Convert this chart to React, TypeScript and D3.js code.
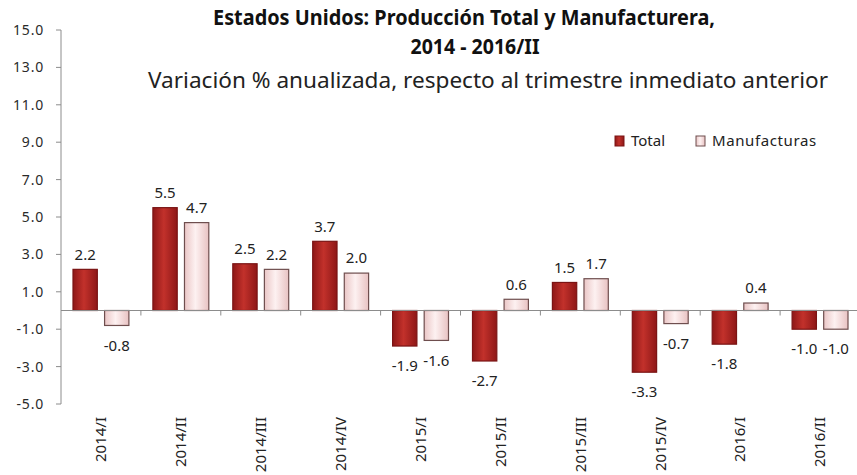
import React from "react";
import * as d3 from "d3";

const categories = ["2014/I", "2014/II", "2014/III", "2014/IV", "2015/I", "2015/II", "2015/III", "2015/IV", "2016/I", "2016/II"];
const totalValues = [2.2, 5.5, 2.5, 3.7, -1.9, -2.7, 1.5, -3.3, -1.8, -1.0];
const manufValues = [-0.8, 4.7, 2.2, 2.0, -1.6, 0.6, 1.7, -0.7, 0.4, -1.0];
const yTicks = [15, 13, 11, 9, 7, 5, 3, 1, -1, -3, -5];
const seriesNames = ["Total", "Manufacturas"];
const titleLine1 = "Estados Unidos: Producción Total y Manufacturera,";
const titleLine2 = "2014 - 2016/II";
const subtitle = "Variación % anualizada, respecto al trimestre inmediato anterior";

const W = 857;
const H = 475;
const FONT = "'Noto Sans', 'Open Sans', sans-serif";

const fmt = (v: number) => v.toFixed(1);

export default function App() {
  const x = d3.scaleBand<string>().domain(categories).range([61, 860]).paddingInner(0).paddingOuter(0);
  const bw = x.bandwidth();
  const inner = d3.scaleBand<string>().domain(seriesNames).range([12, bw - 12]).paddingInner(0.23).paddingOuter(0);
  const y = d3.scaleLinear().domain([-5, 15]).range([404, 30]);
  const y0 = y(0);

  const series = [
    { name: "Total", values: totalValues, fill: "url(#gTotal)", stroke: "#7a1414" },
    { name: "Manufacturas", values: manufValues, fill: "url(#gManuf)", stroke: "#6e4e4e" },
  ];

  return (
    <svg width={W} height={H} style={{ position: "absolute", left: 0, top: 0, background: "#fff" }} fontFamily={FONT}>
      <defs>
        <linearGradient id="gTotal" x1="0" x2="1" y1="0" y2="0">
          <stop offset="0%" stopColor="#8e1717" />
          <stop offset="45%" stopColor="#c2312b" />
          <stop offset="100%" stopColor="#8e1717" />
        </linearGradient>
        <linearGradient id="gManuf" x1="0" x2="1" y1="0" y2="0">
          <stop offset="0%" stopColor="#eac6c6" />
          <stop offset="45%" stopColor="#fdf1f1" />
          <stop offset="100%" stopColor="#e8c2c2" />
        </linearGradient>
      </defs>

      {/* Titles */}
      <text x={464} y={25} textAnchor="middle" fontSize={21} fontWeight="bold" fill="#111" textLength={502} lengthAdjust="spacingAndGlyphs">{titleLine1}</text>
      <text x={475} y={54} textAnchor="middle" fontSize={21} fontWeight="bold" fill="#111" textLength={129} lengthAdjust="spacingAndGlyphs">{titleLine2}</text>
      <text x={488} y={88} textAnchor="middle" fontSize={21} fill="#222" textLength={680} lengthAdjust="spacingAndGlyphs">{subtitle}</text>

      {/* Y axis */}
      <line x1={61} x2={61} y1={y(15)} y2={y(-5)} stroke="#8c8c8c" strokeWidth={1} />
      {yTicks.map((t) => (
        <g key={t}>
          <line x1={56} x2={61} y1={y(t)} y2={y(t)} stroke="#8c8c8c" />
          <text x={44} y={y(t)} dy="0.35em" textAnchor="end" fontSize={14} fill="#2a2a2a" letterSpacing={0.8}>{fmt(t)}</text>
        </g>
      ))}

      {/* Bars */}
      {series.map((s) =>
        s.values.map((v, i) => {
          const bx = (x(categories[i]) as number) + (inner(s.name) as number);
          const top = Math.min(y(v), y0);
          const h = Math.abs(y(v) - y0);
          return (
            <rect key={s.name + i} x={bx} y={top} width={inner.bandwidth()} height={h} fill={s.fill} stroke={s.stroke} strokeWidth={1.2} />
          );
        })
      )}

      {/* Zero axis */}
      <line x1={61} x2={860} y1={y0} y2={y0} stroke="#8c8c8c" strokeWidth={1} />
      {categories.map((c) => (
        <line key={"tk" + c} x1={(x(c) as number) + bw} x2={(x(c) as number) + bw} y1={y0} y2={y0 + 5} stroke="#8c8c8c" />
      ))}

      {/* Value labels */}
      {series.map((s) =>
        s.values.map((v, i) => {
          const cx = (x(categories[i]) as number) + (inner(s.name) as number) + inner.bandwidth() / 2;
          const ly = v >= 0 ? y(v) - 15 : y(v) + 20;
          return (
            <text key={"l" + s.name + i} x={cx} y={ly} dy="0.35em" textAnchor="middle" fontSize={15} fill="#222">{fmt(v)}</text>
          );
        })
      )}

      {/* X labels */}
      {categories.map((c) => {
        const cx = (x(c) as number) + bw / 2;
        return (
          <text key={"x" + c} transform={`translate(${cx},417) rotate(-90)`} dy="0.35em" textAnchor="end" fontSize={15} fill="#222">{c}</text>
        );
      })}

      {/* Legend */}
      <rect x={615} y={136} width={9} height={10} fill="url(#gTotal)" stroke="#7a1414" />
      <text x={631} y={141} dy="0.35em" fontSize={15} fill="#222">{seriesNames[0]}</text>
      <rect x={696} y={136} width={9} height={10} fill="url(#gManuf)" stroke="#6e4e4e" />
      <text x={712} y={141} dy="0.35em" fontSize={15} fill="#222" letterSpacing={0.6}>{seriesNames[1]}</text>
    </svg>
  );
}
